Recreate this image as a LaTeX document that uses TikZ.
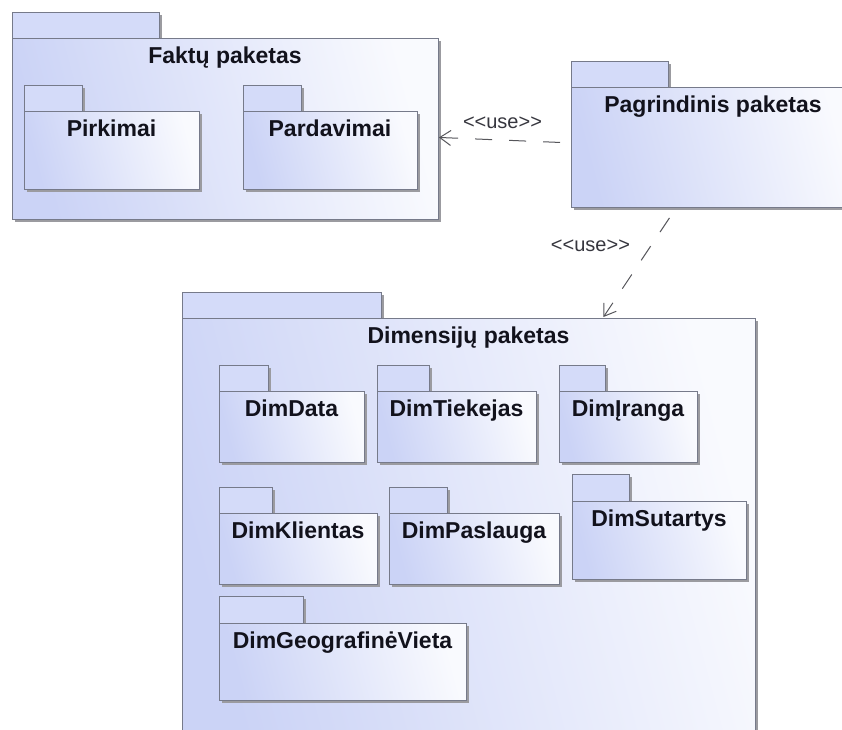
\documentclass[tikz,border=0pt]{standalone}
\usepackage{fontspec}
\setmainfont{Liberation Sans}
\newfontfamily\stereofont{Liberation Sans}
\usetikzlibrary{shadows,arrows.meta}

\definecolor{pkgdark}{RGB}{203,211,246}
\definecolor{pkglight}{RGB}{249,250,254}
\definecolor{pkgtabfill}{RGB}{212,219,249}
\definecolor{pkgline}{RGB}{118,122,138}
\definecolor{pkgshadow}{RGB}{155,155,160}
\definecolor{pkgtext}{RGB}{18,18,28}
\definecolor{deplinec}{RGB}{85,85,90}

\tikzset{
  pkgshape/.style={draw=pkgline, line width=0.9pt, inner sep=0pt, anchor=north west, rectangle,
    drop shadow={shadow xshift=3pt, shadow yshift=-3pt, fill=pkgshadow, opacity=1}},
  pkgtab/.style={pkgshape, fill=pkgtabfill},
  pkgbody/.style={pkgshape, left color=pkgdark, right color=pkglight, shading angle=105},
  pkgname/.style={font=\bfseries\fontsize{23}{27}\selectfont, text=pkgtext, anchor=base, inner sep=0pt},
  usedep/.style={draw=deplinec, line width=1pt, dash pattern=on 17pt off 17pt,
    -{Straight Barb[length=11pt,width=15pt]}},
  stereo/.style={font=\stereofont\fontsize{20}{24}\selectfont, text=pkgtext!85, inner sep=0pt},
}

% UML package: name, left x, tab top, tab right, body top, body right, body bottom, title
\newcommand\umlpackage[8]{%
  \node[pkgtab, minimum width={(#4-#2)*1pt}, minimum height={(#5-#3)*1pt}] (#1-tab) at (#2,#3) {};
  \node[pkgbody, minimum width={(#6-#2)*1pt}, minimum height={(#7-#5)*1pt}] (#1) at (#2,#5) {};
  \node[pkgname] (#1-name) at ({(#2+#6)/2},{#5+25}) {#8};
}

\begin{document}
\begin{tikzpicture}[x=1pt, y=-1pt]
\useasboundingbox (0,0) rectangle (842,729);
\clip (0,0) rectangle (842,729);

% facts package
\umlpackage{fakt}{12}{12}{159}{38}{438}{219}{Faktų paketas}
\umlpackage{pirk}{24}{85}{82}{111}{199}{189}{Pirkimai}
\umlpackage{pard}{243}{85}{301}{111}{417}{189}{Pardavimai}

% main package
\umlpackage{pagr}{571}{61}{668}{87}{855}{207}{Pagrindinis paketas}

% dimensions package
\umlpackage{dim}{182}{292}{381}{318}{755}{745}{Dimensijų paketas}
\umlpackage{dimdata}{219}{365}{268}{391}{364}{462}{DimData}
\umlpackage{dimtiek}{377}{365}{429}{391}{536}{462}{DimTiekejas}
\umlpackage{dimiran}{559}{365}{605}{391}{697}{462}{DimĮranga}
\umlpackage{dimklient}{219}{487}{272}{513}{377}{584}{DimKlientas}
\umlpackage{dimpasl}{389}{487}{447}{513}{559}{584}{DimPaslauga}
\umlpackage{dimsut}{572}{474}{629}{501}{746}{579}{DimSutartys}
\umlpackage{dimgeo}{219}{596}{303}{623}{466}{700}{DimGeografinėVieta}

% <<use>> dependencies
\draw[usedep] ([xshift=-11pt,yshift=5pt]pagr.west)
  -- node[stereo, pos=0.475, yshift=17pt] (use1) {<\kern0pt<use>\kern0pt>}
  ([yshift=-8.5pt]fakt.east);
\draw[usedep] ([xshift=-44pt,yshift=-10pt]pagr.south)
  -- node[stereo, pos=0.28, xshift=-60.5pt] (use2) {<\kern0pt<use>\kern0pt>}
  ([xshift=134.5pt,yshift=1pt]dim.north);
\end{tikzpicture}
\end{document}
